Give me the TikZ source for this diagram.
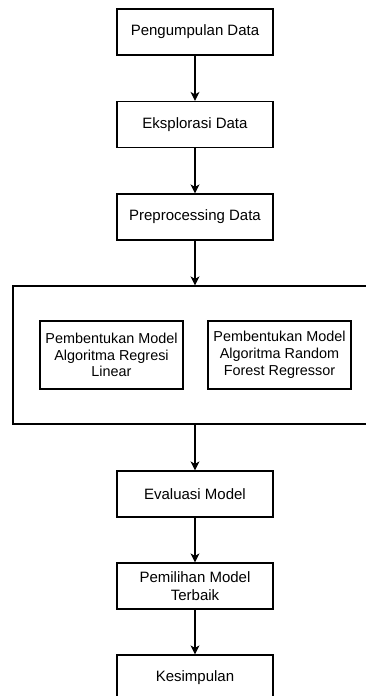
\documentclass[tikz,border=0pt]{standalone}
\usepackage{fontspec}
\setmainfont{Liberation Sans}
\usetikzlibrary{arrows.meta}
\tikzset{
  stepbox/.style={draw,line width=1.2pt,minimum width=156pt,minimum height=46pt,inner sep=0pt,align=center,font=\fontsize{15}{18}\selectfont},
  modelbox/.style={draw,line width=1.2pt,minimum width=143pt,minimum height=68pt,inner sep=0pt,align=center,font=\fontsize{14.4}{16.8}\selectfont},
  flow/.style={-{Stealth[length=9pt,width=9pt,inset=2.5pt]},line width=1.2pt}
}
\begin{document}
\begin{tikzpicture}[x=1pt,y=-1pt]
\useasboundingbox (0,0) rectangle (366,696);
\clip (0,0) rectangle (366,696);
\fill[white] (0,0) rectangle (366,696);
\node[stepbox] (kumpul) at (195,32){Pengumpulan Data};
\node[stepbox] (eksplor) at (195,124.5){Eksplorasi Data};
\node[stepbox] (prepro) at (195,217){Preprocessing Data};
\node[draw,line width=1.2pt,minimum width=372pt,minimum height=138pt,inner sep=0pt] (grup) at (199,355){};
\node[modelbox] (linear) at (111.5,355){Pembentukan Model\\Algoritma Regresi\\Linear};
\node[modelbox] (forest) at (279.5,355){Pembentukan Model\\Algoritma Random\\Forest Regressor};
\node[stepbox] (evaluasi) at (195,494){Evaluasi Model};
\node[stepbox] (pilih) at (195,586){Pemilihan Model\\Terbaik};
\node[stepbox] (simpul) at (195,678){Kesimpulan};
\draw[flow] (kumpul) -- (eksplor);
\draw[flow] (eksplor) -- (prepro);
\draw[flow] (prepro) -- (prepro |- grup.north);
\draw[flow] (evaluasi |- grup.south) -- (evaluasi);
\draw[flow] (evaluasi) -- (pilih);
\draw[flow] (pilih) -- (simpul);
\end{tikzpicture}
\end{document}
